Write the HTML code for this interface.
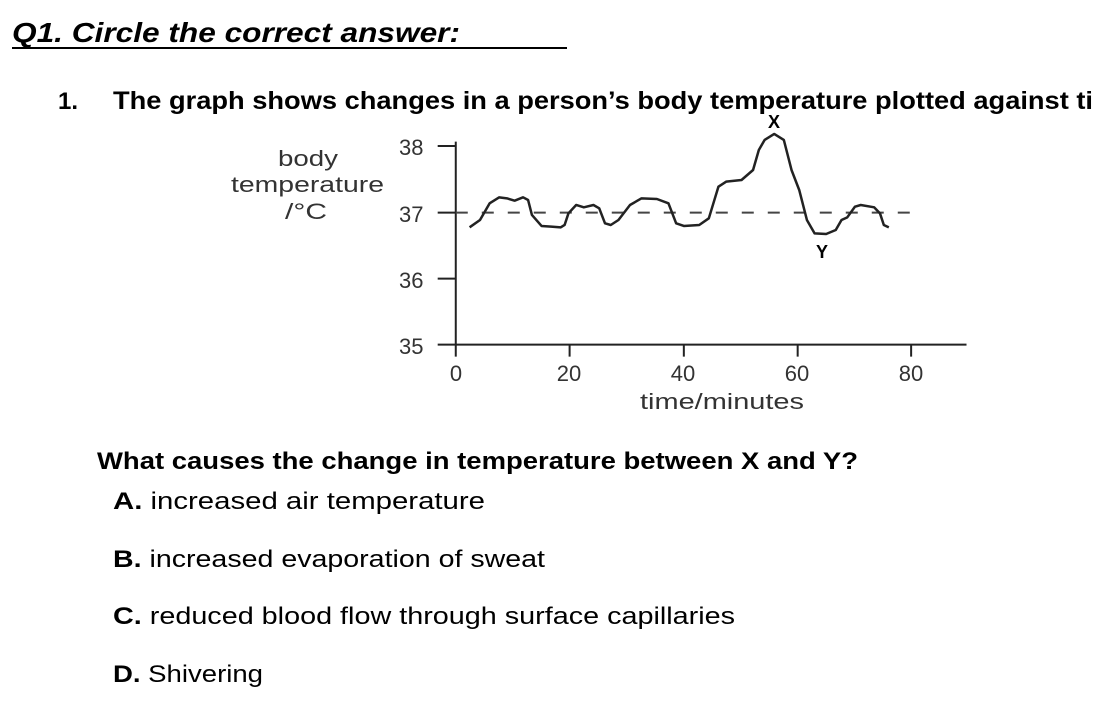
<!DOCTYPE html>
<html><head><meta charset="utf-8"><style>
html,body{margin:0;padding:0;background:#fff;width:1094px;height:716px;overflow:hidden}
svg text{font-family:"Liberation Sans",sans-serif;fill:#000}
svg text.g{fill:#333;font-size:22px}
</style></head><body>
<svg width="1094" height="716" viewBox="0 0 1094 716" xmlns="http://www.w3.org/2000/svg">
<text x="12" y="42" font-size="28" font-weight="bold" font-style="italic" textLength="448" lengthAdjust="spacingAndGlyphs">Q1. Circle the correct answer:</text>
<line x1="12" y1="48" x2="567" y2="48" stroke="#000" stroke-width="2"/>
<text x="58" y="109" font-size="24" font-weight="bold">1.</text>
<text x="113" y="109" font-size="25" font-weight="bold" textLength="980" lengthAdjust="spacingAndGlyphs">The graph shows changes in a person’s body temperature plotted against ti</text>
<text class="g" x="278" y="166" textLength="60" lengthAdjust="spacingAndGlyphs">body</text>
<text class="g" x="231" y="192" textLength="153" lengthAdjust="spacingAndGlyphs">temperature</text>
<text class="g" x="285" y="219" textLength="42" lengthAdjust="spacingAndGlyphs">/°C</text>
<text class="g" x="399" y="155">38</text>
<text class="g" x="399" y="222">37</text>
<text class="g" x="399" y="288">36</text>
<text class="g" x="399" y="354">35</text>
<text class="g" x="456" y="381" text-anchor="middle">0</text>
<text class="g" x="569" y="381" text-anchor="middle">20</text>
<text class="g" x="683" y="381" text-anchor="middle">40</text>
<text class="g" x="797" y="381" text-anchor="middle">60</text>
<text class="g" x="911" y="381" text-anchor="middle">80</text>
<text class="g" x="722" y="409" text-anchor="middle" textLength="164" lengthAdjust="spacingAndGlyphs">time/minutes</text>
<text x="774" y="128" font-size="18" font-weight="bold" text-anchor="middle">X</text>
<text x="822" y="258" font-size="18" font-weight="bold" text-anchor="middle">Y</text>
<g transform="translate(380,110) scale(0.3846,0.3333)" fill="none" stroke="#222" stroke-width="2">
<path vector-effect="non-scaling-stroke" d="M197,95 V704 M150,704 H1525 M150,108 H197 M150,308 H197 M150,506 H197 M197,704 V740 M493,704 V740 M790,704 V740 M1086,704 V740 M1381,704 V740"/>
<path vector-effect="non-scaling-stroke" stroke-dasharray="12 14" stroke="#444" d="M197,308 H1390"/>
<path vector-effect="non-scaling-stroke" stroke-width="2.5" stroke-linejoin="round" d="M233,352 L260,330 L285,280 L310,262 L330,265 L350,272 L372,262 L385,270 L395,315 L420,348 L445,350 L470,352 L480,345 L490,310 L510,285 L530,292 L555,285 L570,295 L585,340 L600,345 L620,330 L650,285 L680,265 L720,267 L750,280 L770,340 L790,348 L830,345 L855,325 L880,230 L900,215 L940,210 L970,180 L985,120 L1000,90 L1025,72 L1050,90 L1070,180 L1090,240 L1110,330 L1130,370 L1160,372 L1185,360 L1200,330 L1215,322 L1235,290 L1250,285 L1285,292 L1300,310 L1310,345 L1323,352"/>
</g>
<text x="97" y="469" font-size="24" font-weight="bold" textLength="761" lengthAdjust="spacingAndGlyphs">What causes the change in temperature between X and Y?</text>
<text x="113" y="509" font-size="24" textLength="372" lengthAdjust="spacingAndGlyphs"><tspan font-weight="bold">A.</tspan> increased air temperature</text>
<text x="113" y="567" font-size="24" textLength="432" lengthAdjust="spacingAndGlyphs"><tspan font-weight="bold">B.</tspan> increased evaporation of sweat</text>
<text x="113" y="624" font-size="24" textLength="622" lengthAdjust="spacingAndGlyphs"><tspan font-weight="bold">C.</tspan> reduced blood flow through surface capillaries</text>
<text x="113" y="682" font-size="24" textLength="150" lengthAdjust="spacingAndGlyphs"><tspan font-weight="bold">D.</tspan> Shivering</text>
</svg>
</body></html>
